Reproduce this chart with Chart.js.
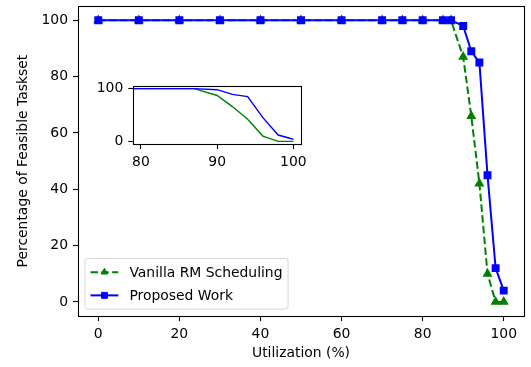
<!DOCTYPE html>
<html>
<head>
<meta charset="utf-8">
<script src="https://cdn.jsdelivr.net/npm/chart.js@4.4.1/dist/chart.umd.min.js"></script>
<style>
  html, body { margin: 0; padding: 0; background: #fff; }
  #wrap { position: relative; width: 531px; height: 367px; }
  #mainChart { position: absolute; left: 0; top: 0; }
  #insetChart { position: absolute; left: 85px; top: 75px; }
</style>
</head>
<body>
<div id="wrap">
  <canvas id="mainChart" width="531" height="367"></canvas>
  <canvas id="insetChart" width="225" height="100"></canvas>
</div>
<script>
// utilization levels (%)
const utilization = [0, 10, 20, 30, 40, 50, 60, 70, 75, 80, 85, 87, 90, 92, 94, 96, 98, 100];
// percentage of feasible tasksets
const vanillaRM = [100, 100, 100, 100, 100, 100, 100, 100, 100, 100, 100, 100, 87, 66, 42, 10, 0, 0];
const proposedWork = [100, 100, 100, 100, 100, 100, 100, 100, 100, 100, 100, 100, 98, 89, 85, 45, 12, 4];

const mainXTicks = [0, 20, 40, 60, 80, 100];
const mainYTicks = [0, 20, 40, 60, 80, 100];
const insetXTicks = [80, 90, 100];
const insetYTicks = [0, 100];

const seriesNames = ['Vanilla RM Scheduling', 'Proposed Work'];

const FONT = { family: 'DejaVu Sans', size: 13.9 };
Chart.defaults.color = '#000';
Chart.defaults.font.family = FONT.family;
Chart.defaults.font.size = FONT.size;

const toPoints = ys => utilization.map((x, i) => ({ x: x, y: ys[i] }));

// black frame round the plot area, like matplotlib spines
const frame = {
  id: 'frame',
  beforeDatasetsDraw(chart) {
    const a = chart.chartArea;
    const ctx = chart.ctx;
    ctx.save();
    ctx.fillStyle = '#fff';
    ctx.fillRect(a.left, a.top, a.right - a.left, a.bottom - a.top);
    ctx.restore();
  },
  afterDatasetsDraw(chart) {
    const a = chart.chartArea;
    const ctx = chart.ctx;
    ctx.save();
    ctx.strokeStyle = '#000';
    ctx.lineWidth = 1.1;
    ctx.strokeRect(Math.round(a.left) + 0.5, Math.round(a.top) + 0.5,
      Math.round(a.right - a.left), Math.round(a.bottom - a.top));
    ctx.restore();
  }
};

// legend box in the lower left corner of the axes
const cornerLegend = {
  id: 'cornerLegend',
  afterDraw(chart) {
    const a = chart.chartArea;
    const ctx = chart.ctx;
    const fs = FONT.size;
    ctx.save();
    ctx.font = fs + 'px ' + FONT.family;
    const sets = chart.data.datasets;
    const textW = Math.max(...sets.map(d => ctx.measureText(d.label).width));
    const pad = 0.4 * fs, handleLen = 2 * fs, handlePad = 0.8 * fs;
    const rowH = fs * 1.17, gap = 0.5 * fs;
    const w = pad * 2 + handleLen + handlePad + textW;
    const h = pad * 2 + rowH * sets.length + gap * (sets.length - 1);
    const x0 = a.left + 0.5 * fs;
    const y0 = a.bottom - 0.5 * fs - h;

    ctx.beginPath();
    ctx.roundRect(x0, y0, w, h, 0.2 * fs);
    ctx.fillStyle = 'rgba(255,255,255,0.8)';
    ctx.fill();
    ctx.strokeStyle = '#d6d6d6';
    ctx.lineWidth = 1;
    ctx.stroke();

    sets.forEach((d, i) => {
      const cy = y0 + pad + rowH / 2 + i * (rowH + gap);
      const hx = x0 + pad;
      ctx.save();
      ctx.strokeStyle = d.borderColor;
      ctx.lineWidth = d.borderWidth;
      ctx.setLineDash(d.borderDash || []);
      ctx.beginPath();
      ctx.moveTo(hx, cy);
      ctx.lineTo(hx + handleLen, cy);
      ctx.stroke();
      ctx.restore();
      ctx.fillStyle = d.pointBackgroundColor;
      ctx.strokeStyle = d.pointBorderColor;
      Chart.helpers.drawPoint(ctx, {
        pointStyle: d.pointStyle, radius: d.pointRadius, rotation: 0, borderWidth: 1
      }, hx + handleLen / 2, cy);
      ctx.fillStyle = '#000';
      ctx.textBaseline = 'middle';
      ctx.textAlign = 'left';
      ctx.fillText(d.label, hx + handleLen + handlePad, cy + 1);
    });
    ctx.restore();
  }
};

function fixedTicks(values) {
  return scale => { scale.ticks = values.map(v => ({ value: v })); };
}

// fixed axis size, and no extra room for labels hanging past the ends
function fitTo(prop, px) {
  return s => {
    s[prop] = px;
    s.paddingLeft = s.paddingRight = s.paddingTop = s.paddingBottom = 0;
  };
}

function axis(min, max, ticks, title, fit) {
  return {
    type: 'linear',
    min: min,
    max: max,
    afterBuildTicks: fixedTicks(ticks),
    afterFit: fit,
    grid: { drawOnChartArea: false, drawTicks: true, tickLength: 5, tickColor: '#000', tickWidth: 1.1 },
    border: { display: false },
    ticks: { padding: 5, color: '#000', font: FONT, maxRotation: 0, autoSkip: false, callback: v => String(v) },
    title: title ? { display: true, text: title, color: '#000', font: FONT, padding: { top: 4, bottom: 4 } } : { display: false }
  };
}

new Chart(document.getElementById('mainChart'), {
  type: 'line',
  data: {
    datasets: [
      {
        label: seriesNames[0],
        data: toPoints(vanillaRM),
        borderColor: '#008000',
        backgroundColor: '#008000',
        pointBackgroundColor: '#008000',
        pointBorderColor: '#008000',
        borderWidth: 2,
        borderDash: [7.5, 3.3],
        pointStyle: 'triangle',
        pointRadius: 3.8,
        tension: 0,
        order: 1
      },
      {
        label: seriesNames[1],
        data: toPoints(proposedWork),
        borderColor: '#0000ff',
        backgroundColor: '#0000ff',
        pointBackgroundColor: '#0000ff',
        pointBorderColor: '#0000ff',
        borderWidth: 2,
        pointStyle: 'rect',
        pointRadius: 4.2,
        tension: 0,
        order: 0
      }
    ]
  },
  options: {
    responsive: false,
    animation: false,
    devicePixelRatio: 1,
    layout: { padding: { left: 10.7, right: 7, top: 5, bottom: 1.7 } },
    plugins: { legend: { display: false }, tooltip: { enabled: false } },
    scales: {
      x: axis(-5, 105, mainXTicks, 'Utilization (%)', fitTo('height', 49.3)),
      y: axis(-5, 105, mainYTicks, 'Percentage of Feasible Taskset', fitTo('width', 67.3))
    }
  },
  plugins: [frame, cornerLegend]
});

new Chart(document.getElementById('insetChart'), {
  type: 'line',
  data: {
    datasets: [
      { data: toPoints(vanillaRM), borderColor: '#008000', borderWidth: 1.4, pointRadius: 0, tension: 0, order: 1 },
      { data: toPoints(proposedWork), borderColor: '#0000ff', borderWidth: 1.4, pointRadius: 0, tension: 0, order: 0 }
    ]
  },
  options: {
    responsive: false,
    animation: false,
    devicePixelRatio: 1,
    layout: { padding: { left: 0, right: 9, top: 11, bottom: 0 } },
    plugins: { legend: { display: false }, tooltip: { enabled: false } },
    scales: {
      x: axis(79, 101, insetXTicks, null, fitTo('height', 31)),
      y: axis(-5, 105, insetYTicks, null, fitTo('width', 48.3))
    }
  },
  plugins: [frame]
});
</script>
</body>
</html>
